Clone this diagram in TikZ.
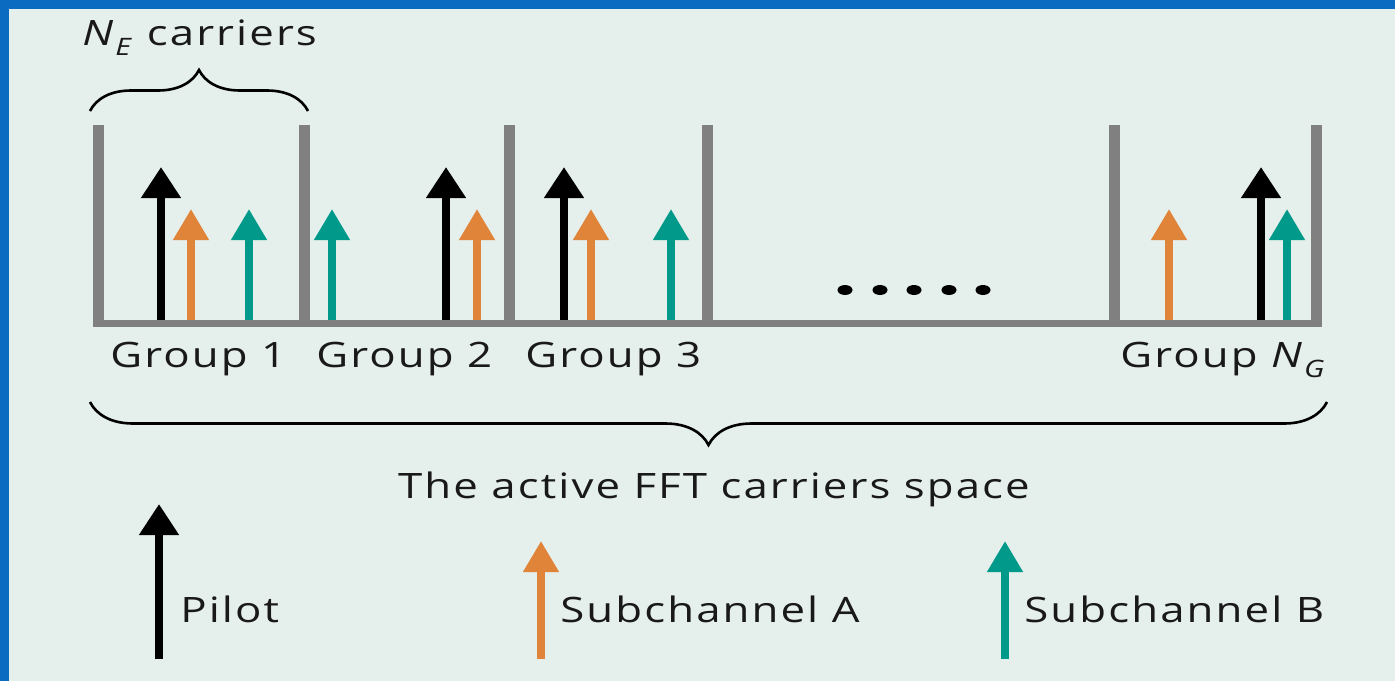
\documentclass[tikz,border=0pt]{standalone}
\usepackage{fontspec}
\setmainfont[FakeStretch=1.25,LetterSpace=6]{Open Sans}
\usetikzlibrary{arrows.meta,decorations.pathreplacing}
\definecolor{panel}{HTML}{E5EFEB}
\definecolor{frame}{HTML}{0A6BC1}
\definecolor{divgray}{HTML}{808080}
\definecolor{chanA}{HTML}{E0843A}
\definecolor{chanB}{HTML}{00998A}
\newcommand{\lowidx}[1]{\raisebox{-5pt}{\fontsize{12}{12}\selectfont\textit{#1}}}

\begin{document}
\begin{tikzpicture}[x=0.5pt,y=-0.5pt,
	divider/.style={divgray, line width=5.5pt},
	pilot/.style={-{Triangle[width=19pt,length=15.5pt]}, line width=4pt, black},
	subA/.style={-{Triangle[width=17pt,length=15.5pt]}, line width=3.75pt, chanA},
	subB/.style={-{Triangle[width=17pt,length=15.5pt]}, line width=3.75pt, chanB},
	curly/.style={decorate, line width=1.3pt},
	lbl/.style={inner sep=0pt, anchor=base west, font=\fontsize{17.5}{20}\selectfont, text=black!90}]
	\fill[panel] (0,0) rectangle (1395,681);
	\fill[frame] (0,0) rectangle (1395,9);
	\fill[frame] (0,0) rectangle (9,681);
	\useasboundingbox (0,0) rectangle (1395,681);
	
	% carriers of each group
	\draw[pilot] (161,322) -- (161,167);
	\draw[subA] (191,322) -- (191,209);
	\draw[subB] (249,322) -- (249,209);
	\draw[subB] (332,322) -- (332,209);
	\draw[pilot] (446,322) -- (446,167);
	\draw[subA] (477,322) -- (477,209);
	\draw[pilot] (564,322) -- (564,167);
	\draw[subA] (591,322) -- (591,209);
	\draw[subB] (671,322) -- (671,209);
	\draw[subA] (1169,322) -- (1169,209);
	\draw[pilot] (1261,322) -- (1261,167);
	\draw[subB] (1287,322) -- (1287,209);
	
	% axis and group separators
	\draw[divider, line width=3.5pt] (93,323.5) -- (1322,323.5);
	\draw[divider] (98.5,125) -- (98.5,327);
	\draw[divider] (304,125) -- (304,327);
	\draw[divider] (509.5,125) -- (509.5,327);
	\draw[divider] (707.5,125) -- (707.5,327);
	\draw[divider] (1114.5,125) -- (1114.5,327);
	\draw[divider] (1316,125) -- (1316,327);
	
	\fill (845,290) ellipse [x radius=3.75pt, y radius=2.5pt];
	\fill (880,290) ellipse [x radius=3.75pt, y radius=2.5pt];
	\fill (914,290) ellipse [x radius=3.75pt, y radius=2.5pt];
	\fill (949,290) ellipse [x radius=3.75pt, y radius=2.5pt];
	\fill (983,290) ellipse [x radius=3.75pt, y radius=2.5pt];
	
	\draw[curly, decoration={brace, amplitude=20.5pt}] (90,111) -- (308,111);
	\draw[curly, decoration={brace, amplitude=21.5pt}] (1327,402) -- (90,402);
	
	\node[lbl] (ne) at (82,45) {\textit{N}\lowidx{E} carriers};
	\node[lbl] (g1) at (110,367) {Group 1};
	\node[lbl] (g2) at (316,367) {Group 2};
	\node[lbl] (g3) at (525,367) {Group 3};
	\node[lbl] (gn) at (1120,367) {Group \textit{N}\lowidx{G}};
	\node[lbl, anchor=base] (space) at (714,498) {The active FFT carriers space};
	
	% legend
	\draw[pilot] (159,659) -- (159,504);
	\draw[subA] (541,659) -- (541,541);
	\draw[subB] (1005,659) -- (1005,541);
	\node[lbl] (pl) at (180,622) {Pilot};
	\node[lbl] (sa) at (560,622) {Subchannel A};
	\node[lbl] (sb) at (1024,622) {Subchannel B};
\end{tikzpicture}
\end{document}
